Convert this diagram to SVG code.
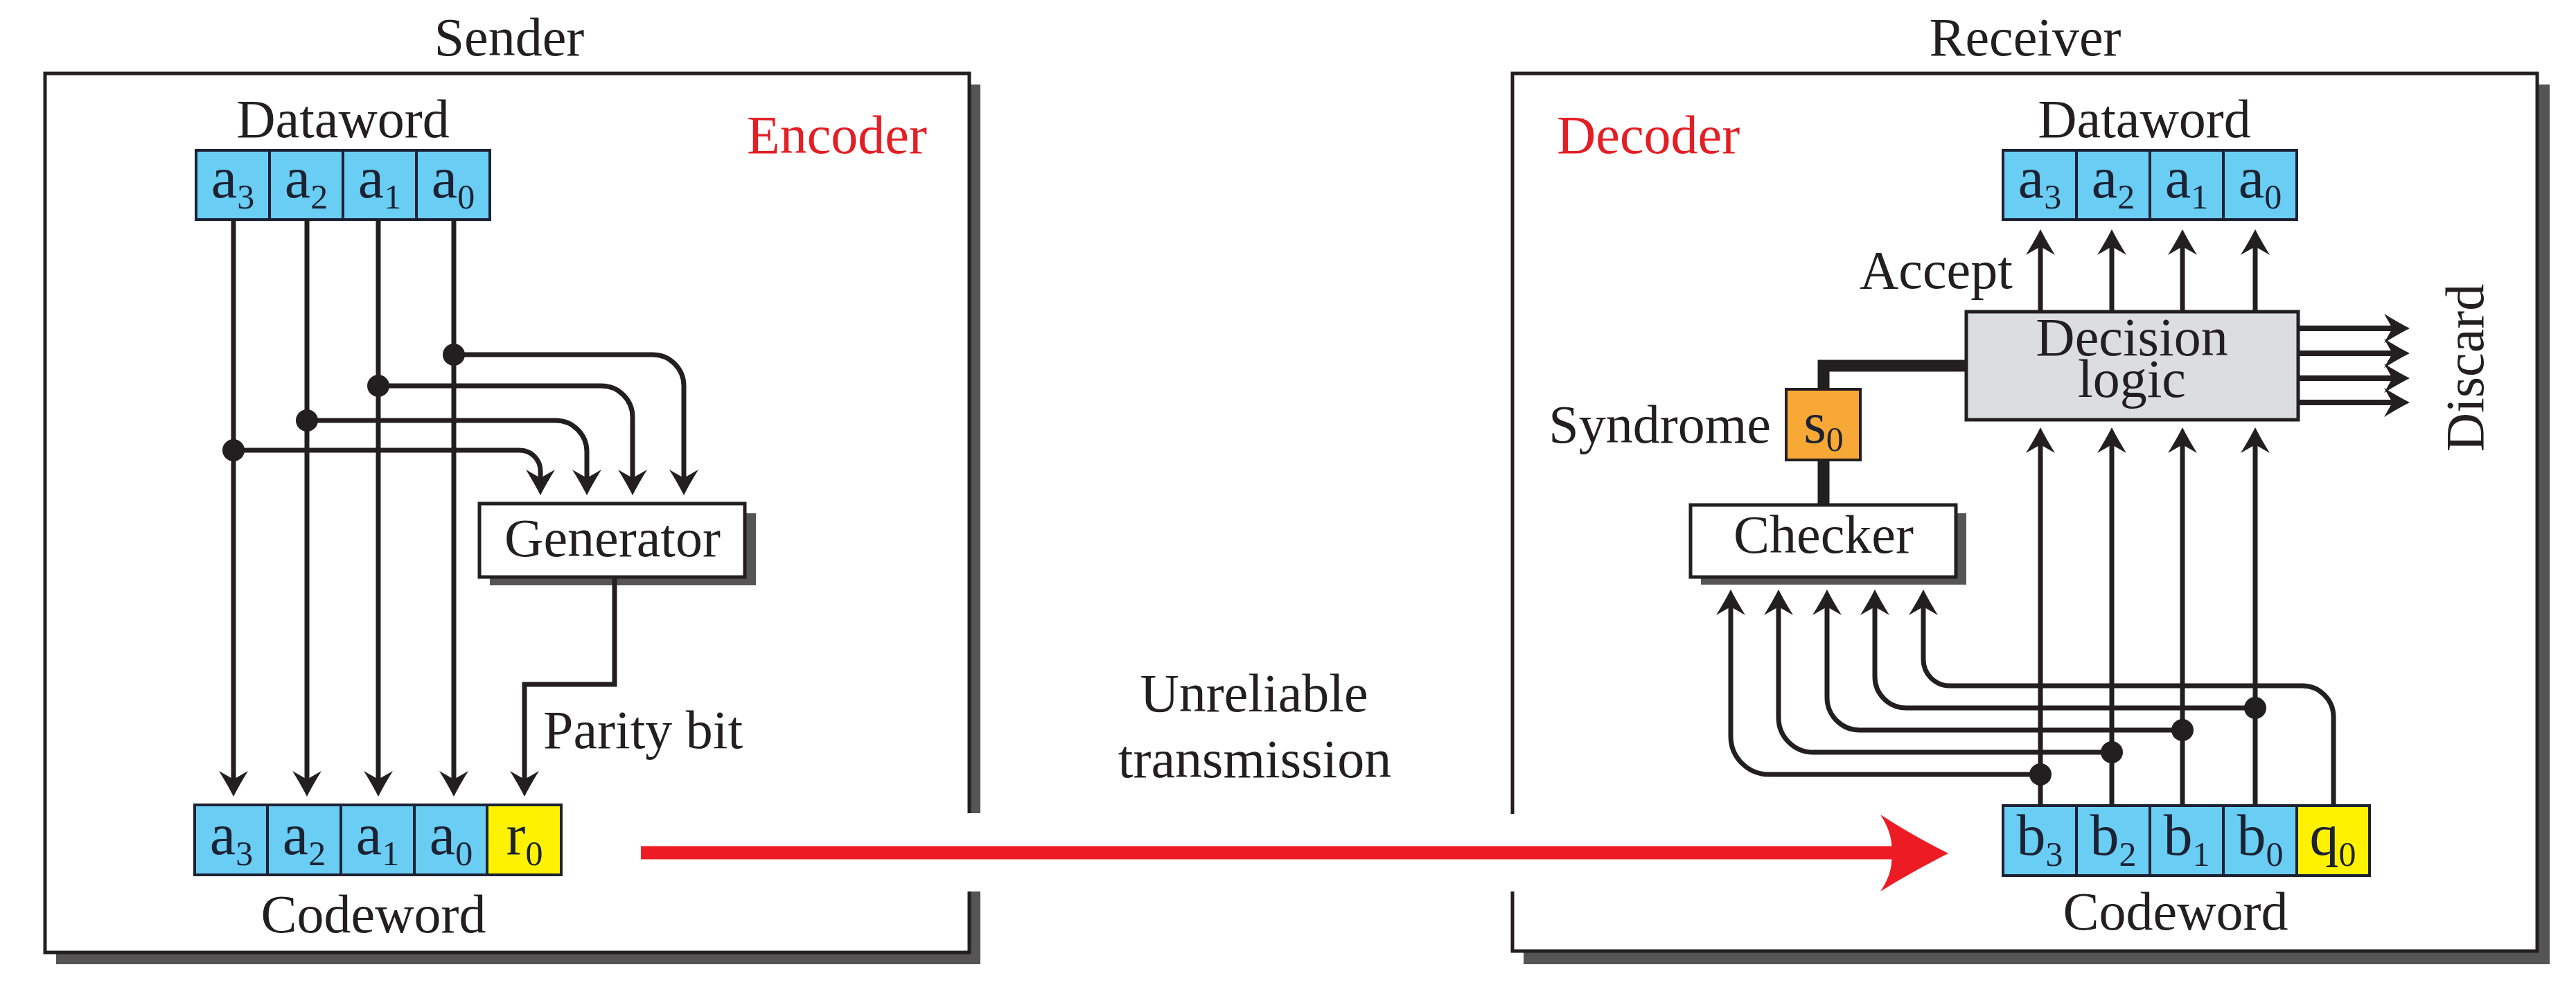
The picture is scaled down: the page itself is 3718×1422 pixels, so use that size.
<svg xmlns="http://www.w3.org/2000/svg" width="3718" height="1422" viewBox="0 0 3718 1422">
<style>
.t{font-family:"Liberation Serif","Times New Roman",serif;font-size:78px;fill:#231f20}
.red{fill:#e31e24}
.ct{font-family:"Liberation Serif","Times New Roman",serif;font-size:84px;fill:#1c2233;text-anchor:middle}
.sub{font-size:50px}
.ln{stroke:#231f20;stroke-width:7;fill:none}
.thk{stroke:#231f20;stroke-width:17;fill:none}
.box{stroke:#231f20;stroke-width:5;fill:#fff}
.sh{fill:#555}
.cell{fill:#6acdf3;stroke:#1c2233;stroke-width:4}
.yel{fill:#fff200;stroke:#1c2233;stroke-width:4}
.dot{fill:#231f20}
</style>
<defs>
<marker id="ah" markerUnits="userSpaceOnUse" viewBox="-40 -24 44 48" markerWidth="44" markerHeight="48" refX="-10" refY="0" orient="auto" overflow="visible">
<path d="M0,0 Q-16,-8 -37,-21 L-25,0 L-37,21 Q-16,8 0,0Z" fill="#231f20"/>
</marker>
</defs>
<rect width="3718" height="1422" fill="#fff"/>

<g id="sender">
<rect class="sh" x="81" y="122" width="1334" height="1270"/>
<rect class="box" x="65" y="106" width="1334" height="1269"/>
<rect x="1390" y="1174" width="32" height="113" fill="#fff"/>
<text class="t" x="735" y="80" text-anchor="middle">Sender</text>
<text class="t red" x="1078" y="221">Encoder</text>
</g>

<g id="receiver">
<rect class="sh" x="2199" y="122" width="1481" height="1270"/>
<rect class="box" x="2183" y="106" width="1479" height="1267"/>
<rect x="2176" y="1175" width="16" height="112" fill="#fff"/>
<text class="t" x="2923" y="80" text-anchor="middle">Receiver</text>
<text class="t red" x="2247" y="221">Decoder</text>
</g>

<g id="sender-dataword">
<text class="t" x="495" y="198" text-anchor="middle">Dataword</text>
<rect class="cell" x="283" y="217" width="106" height="100"/>
<rect class="cell" x="389" y="217" width="106" height="100"/>
<rect class="cell" x="495" y="217" width="106" height="100"/>
<rect class="cell" x="601" y="217" width="106" height="100"/>
<text class="ct" x="336" y="285">a<tspan class="sub" dy="16">3</tspan></text>
<text class="ct" x="442" y="285">a<tspan class="sub" dy="16">2</tspan></text>
<text class="ct" x="548" y="285">a<tspan class="sub" dy="16">1</tspan></text>
<text class="ct" x="654" y="285">a<tspan class="sub" dy="16">0</tspan></text>
</g>

<g id="generator">
<rect class="sh" x="707" y="741" width="384" height="104"/>
<rect class="box" x="692" y="727" width="383" height="106"/>
<text class="t" x="884" y="803" text-anchor="middle">Generator</text>
</g>

<g id="sender-codeword">
<rect class="cell" x="281" y="1162" width="105" height="101"/>
<rect class="cell" x="386" y="1162" width="106" height="101"/>
<rect class="cell" x="492" y="1162" width="106" height="101"/>
<rect class="cell" x="598" y="1162" width="105" height="101"/>
<rect class="yel" x="703" y="1162" width="107" height="101"/>
<text class="ct" x="334" y="1233">a<tspan class="sub" dy="16">3</tspan></text>
<text class="ct" x="439" y="1233">a<tspan class="sub" dy="16">2</tspan></text>
<text class="ct" x="545" y="1233">a<tspan class="sub" dy="16">1</tspan></text>
<text class="ct" x="651" y="1233">a<tspan class="sub" dy="16">0</tspan></text>
<text class="ct" x="757" y="1233">r<tspan class="sub" dy="16">0</tspan></text>
<text class="t" x="539" y="1346" text-anchor="middle">Codeword</text>
</g>

<g id="receiver-dataword">
<text class="t" x="3095" y="198" text-anchor="middle">Dataword</text>
<rect class="cell" x="2891" y="217" width="106" height="100"/>
<rect class="cell" x="2997" y="217" width="106" height="100"/>
<rect class="cell" x="3103" y="217" width="106" height="100"/>
<rect class="cell" x="3209" y="217" width="106" height="100"/>
<text class="ct" x="2944" y="285">a<tspan class="sub" dy="16">3</tspan></text>
<text class="ct" x="3050" y="285">a<tspan class="sub" dy="16">2</tspan></text>
<text class="ct" x="3156" y="285">a<tspan class="sub" dy="16">1</tspan></text>
<text class="ct" x="3262" y="285">a<tspan class="sub" dy="16">0</tspan></text>
</g>

<g id="decision-logic">
<rect x="2838" y="450" width="479" height="156" fill="#dcddde" stroke="#231f20" stroke-width="5"/>
<text class="t" x="3077" y="513" text-anchor="middle">Decision</text>
<text class="t" x="3077" y="573" text-anchor="middle">logic</text>
</g>

<g id="syndrome">
<rect x="2578" y="562" width="107" height="102" fill="#f8a935" stroke="#231f20" stroke-width="4"/>
<text class="ct" x="2632" y="639">s<tspan class="sub" dy="12">0</tspan></text>
<text class="t" x="2556" y="639" text-anchor="end">Syndrome</text>
</g>

<g id="checker">
<rect class="sh" x="2455" y="741" width="383" height="103"/>
<rect class="box" x="2440" y="729" width="383" height="104"/>
<text class="t" x="2632" y="798" text-anchor="middle">Checker</text>
</g>

<g id="receiver-codeword">
<rect class="cell" x="2891" y="1163" width="106" height="101"/>
<rect class="cell" x="2997" y="1163" width="106" height="101"/>
<rect class="cell" x="3103" y="1163" width="106" height="101"/>
<rect class="cell" x="3209" y="1163" width="106" height="101"/>
<rect class="yel" x="3315" y="1163" width="105" height="101"/>
<text class="ct" x="2944" y="1234">b<tspan class="sub" dy="16">3</tspan></text>
<text class="ct" x="3050" y="1234">b<tspan class="sub" dy="16">2</tspan></text>
<text class="ct" x="3156" y="1234">b<tspan class="sub" dy="16">1</tspan></text>
<text class="ct" x="3262" y="1234">b<tspan class="sub" dy="16">0</tspan></text>
<text class="ct" x="3367" y="1234">q<tspan class="sub" dy="16">0</tspan></text>
<text class="t" x="3140" y="1342" text-anchor="middle">Codeword</text>
</g>

<g id="labels">
<text class="t" x="784" y="1080">Parity bit</text>
<text class="t" x="1810" y="1027" text-anchor="middle">Unreliable</text>
<text class="t" x="1811" y="1122" text-anchor="middle">transmission</text>
<text class="t" x="2684" y="416">Accept</text>
<text class="t" transform="translate(3584,531) rotate(-90)" text-anchor="middle">Discard</text>
</g>

<g id="connectors">
<g marker-end="url(#ah)" class="ln">
<path d="M337,317V1140"/>
<path d="M443,317V1140"/>
<path d="M546,317V1140"/>
<path d="M655,317V1140"/>
<path d="M887,833V988H757V1140"/>
<path d="M655,512H942A45,45 0 0 1 987,557V705"/>
<path d="M546,557H868A45,45 0 0 1 913,602V705"/>
<path d="M443,607H802A45,45 0 0 1 847,652V705"/>
<path d="M337,650H750A30,30 0 0 1 780,680V705"/>
<path d="M2945,450V341"/>
<path d="M3048,450V341"/>
<path d="M3150,450V341"/>
<path d="M3255,450V341"/>
<path d="M2945,1163V627"/>
<path d="M3048,1163V627"/>
<path d="M3150,1163V627"/>
<path d="M3255,1163V627"/>
<path d="M2945,1118H2553A55,55 0 0 1 2498,1063V861"/>
<path d="M3048,1086H2617A50,50 0 0 1 2567,1036V861"/>
<path d="M3150,1054H2684A47,47 0 0 1 2637,1007V861"/>
<path d="M3255,1022H2751A45,45 0 0 1 2706,977V861"/>
<path d="M3368,1163V1035A45,45 0 0 0 3323,990H2814A38,38 0 0 1 2776,952V861"/>
<path d="M3317,474H3468" stroke-width="8"/>
<path d="M3317,510H3468" stroke-width="8"/>
<path d="M3317,546H3468" stroke-width="8"/>
<path d="M3317,581H3468" stroke-width="8"/>
</g>
<circle class="dot" cx="655" cy="512" r="16"/>
<circle class="dot" cx="546" cy="557" r="16"/>
<circle class="dot" cx="443" cy="607" r="16"/>
<circle class="dot" cx="337" cy="650" r="16"/>
<circle class="dot" cx="2945" cy="1118" r="16"/>
<circle class="dot" cx="3048" cy="1086" r="16"/>
<circle class="dot" cx="3150" cy="1054" r="16"/>
<circle class="dot" cx="3255" cy="1022" r="16"/>
<path class="thk" d="M2632,562V528H2838"/>
<path class="thk" d="M2632,664V729"/>
<path d="M925,1231H2735" stroke="#ed1c24" stroke-width="19" fill="none"/>
<path d="M2812,1232Q2760,1206 2714,1176Q2733,1205 2730,1232Q2733,1259 2714,1287Q2760,1258 2812,1232Z" fill="#ed1c24"/>
</g>
</svg>
